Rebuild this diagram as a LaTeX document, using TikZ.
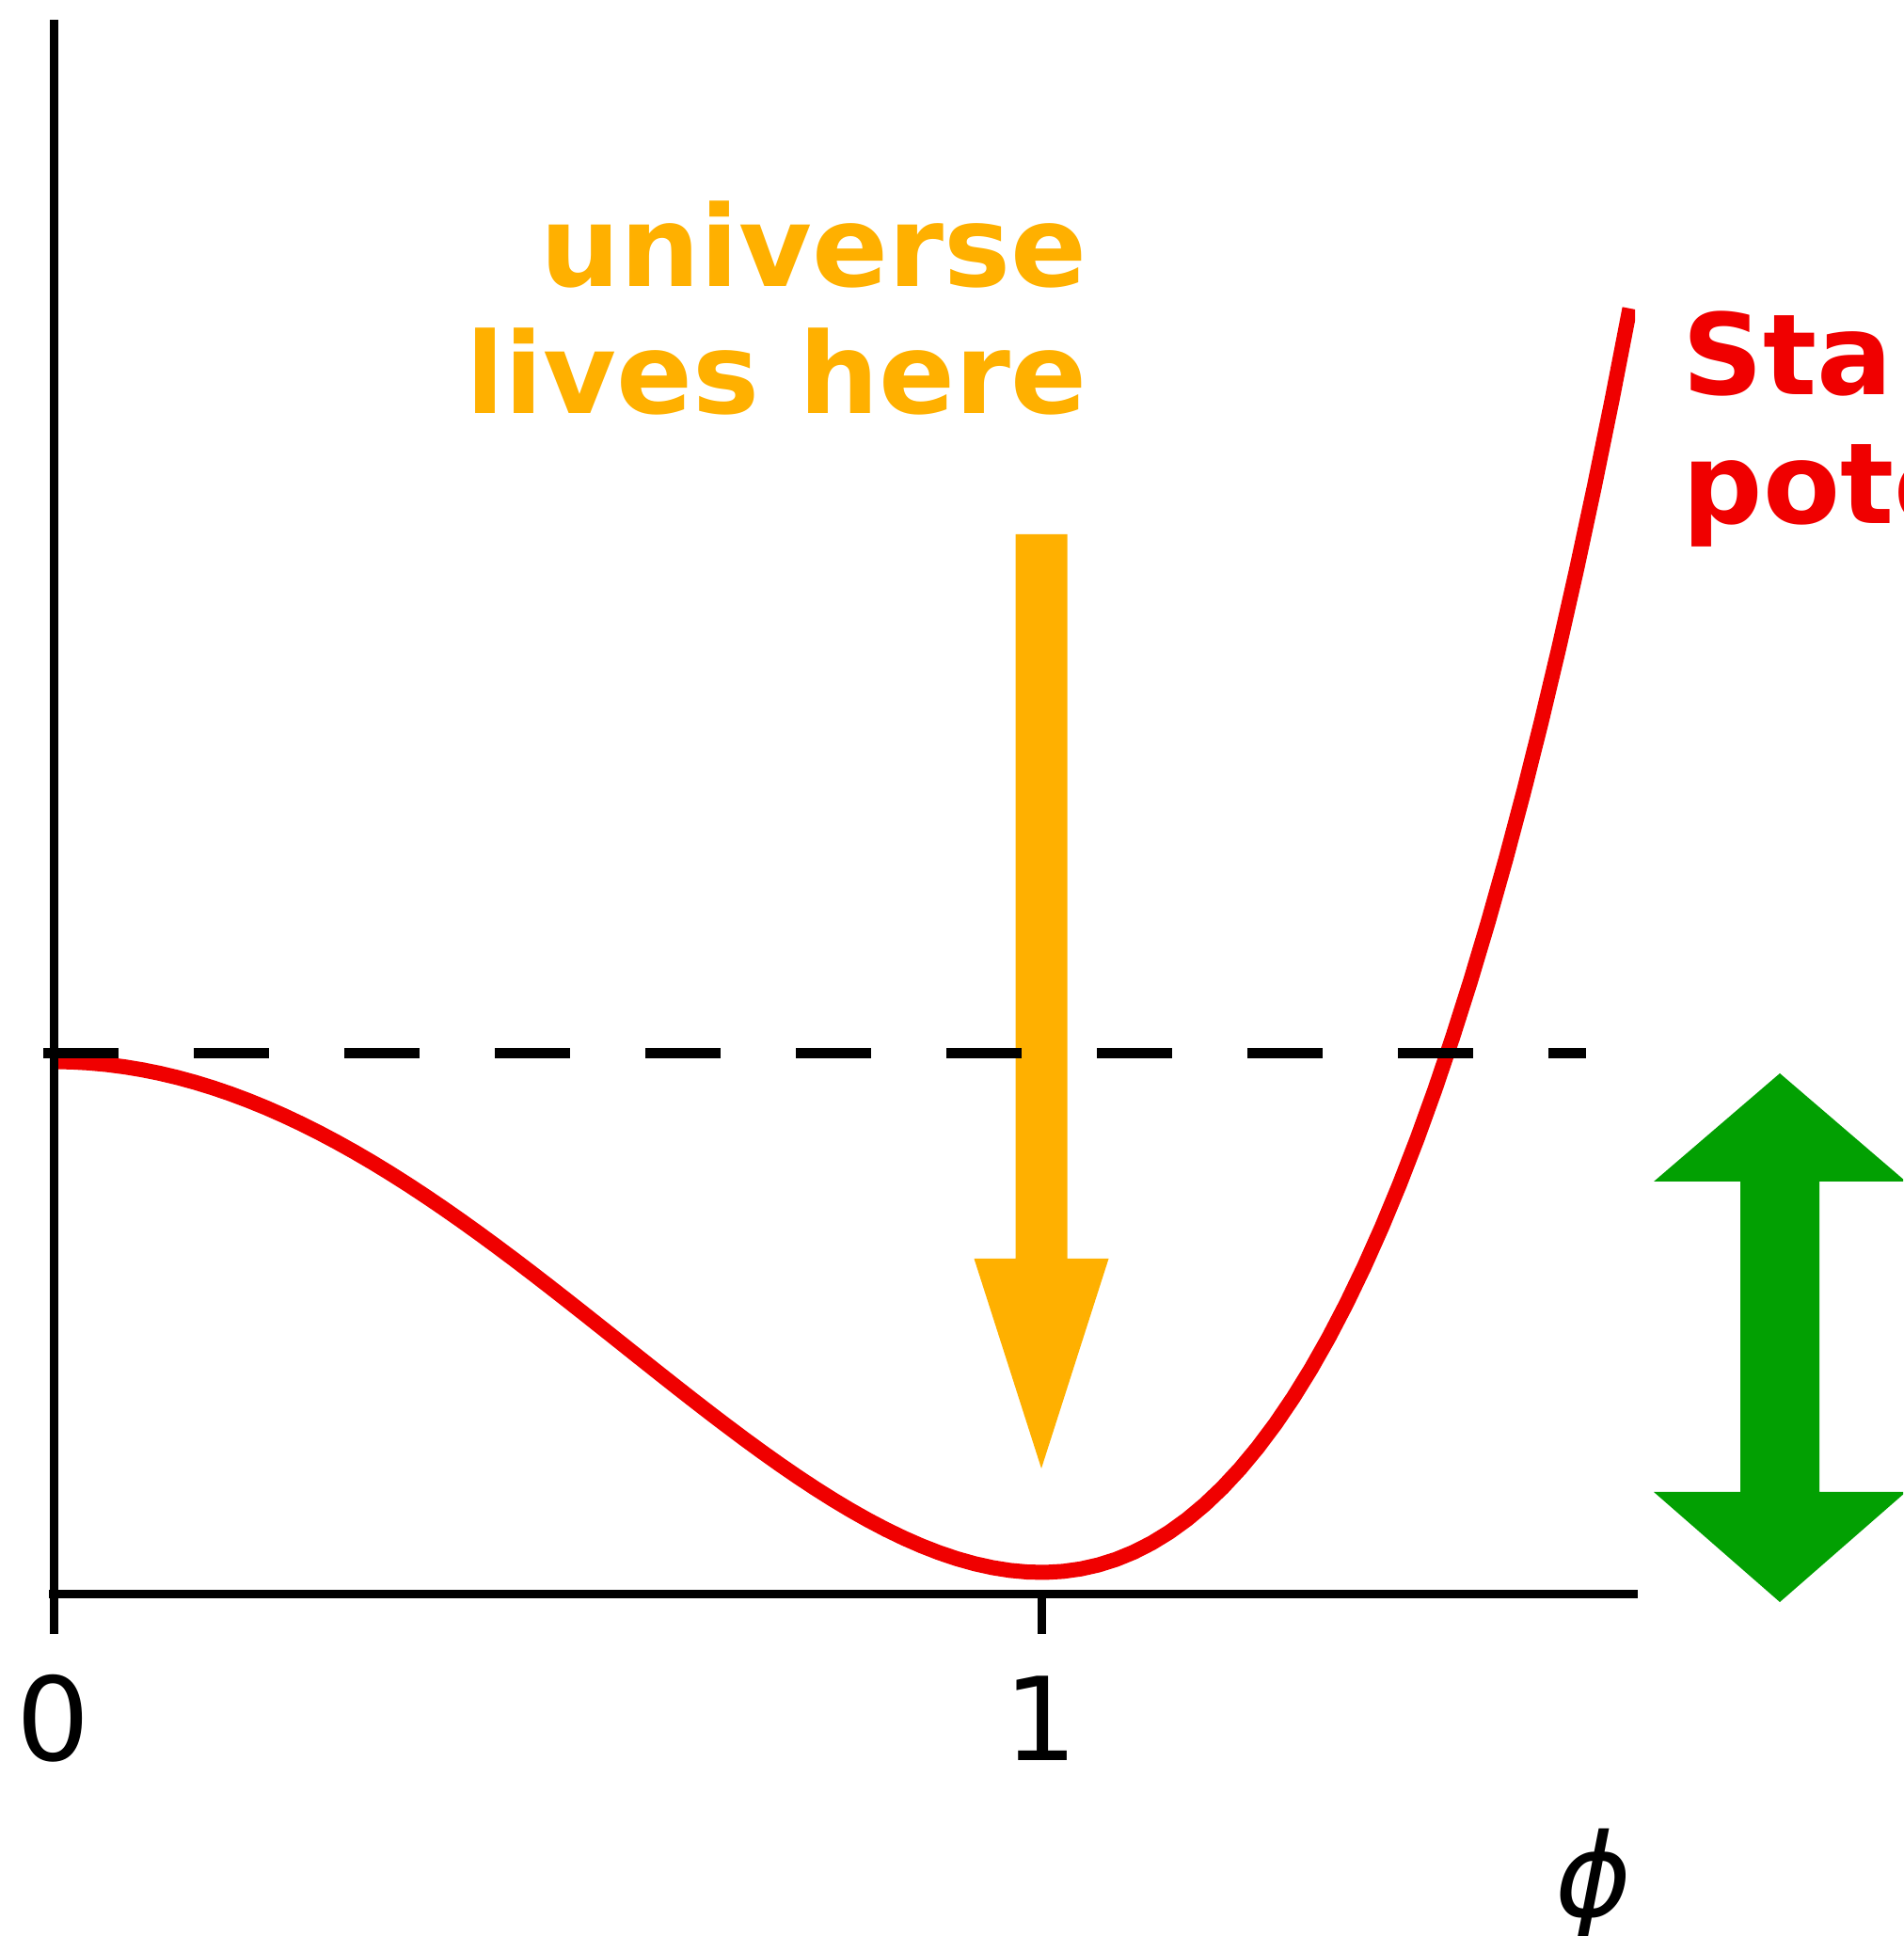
\documentclass[tikz,border=0pt]{standalone}
\usepackage{fontspec}
\setmainfont{DejaVu Sans}

\definecolor{potred}{RGB}{240,0,0}
\definecolor{liveorange}{RGB}{255,176,0}
\definecolor{swing}{RGB}{2,160,2}

\begin{document}
\begin{tikzpicture}[
    axis/.style={line width=0.9mm},
    potential/.style={line width=1.6mm, potred},
    level/.style={line width=1.1mm, dash pattern=on 8mm off 8mm},
    ticklabel/.style={inner sep=0pt, anchor=base, font=\fontsize{35}{42}\selectfont},
    note/.style={inner sep=0pt, font=\fontsize{34}{40}\selectfont\bfseries}
]
    \clip (-0.57,-3.635) rectangle (19.66,16.945);

    % the potential, a bit steeper past the minimum
    \begin{scope}
        \clip (-0.57,-1) rectangle (16.81,16.945);
        \draw[potential, domain=0:1.596, samples=90] plot ({10.5*\x},{(5.43+0.19*(\x>1))*(\x*\x-1)*(\x*\x-1)+0.23});
    \end{scope}

    \fill[liveorange] (10.225,11.265) -- (10.775,11.265) -- (10.775,3.565) -- (11.215,3.565)
        -- (10.5,1.335) -- (9.785,3.565) -- (10.225,3.565) -- cycle;

    \draw[axis] (0,-0.425) -- (0,16.735);
    \draw[axis] (-0.05,0) -- (16.84,0);
    \draw[axis] (10.5,0) -- (10.5,-0.425);
    \draw[level] (-0.11,5.745) -- (16.29,5.745);

    \node[ticklabel] (zero) at (0,-1.765) {0};
    \node[ticklabel] (one) at (10.5,-1.765) {1};
    \node[ticklabel, font=\fontsize{35}{42}\selectfont\itshape] (phi) at (16.37,-3.425) {ϕ};

    \node[note, liveorange, anchor=base east] (live1) at (10.99,13.9) {universe};
    \node[note, liveorange, anchor=base east] (live2) at (10.99,12.545) {lives here};
    \node[note, potred, anchor=base west] (name1) at (17.31,12.745) {Sta};
    \node[note, potred, anchor=base west] (name2) at (17.31,11.375) {pote};

    \fill[swing] (18.35,5.535) -- (19.69,4.385) -- (18.77,4.385) -- (18.77,1.085) -- (19.69,1.085)
        -- (18.35,-0.085) -- (17.01,1.085) -- (17.93,1.085) -- (17.93,4.385) -- (17.01,4.385) -- cycle;
\end{tikzpicture}
\end{document}
